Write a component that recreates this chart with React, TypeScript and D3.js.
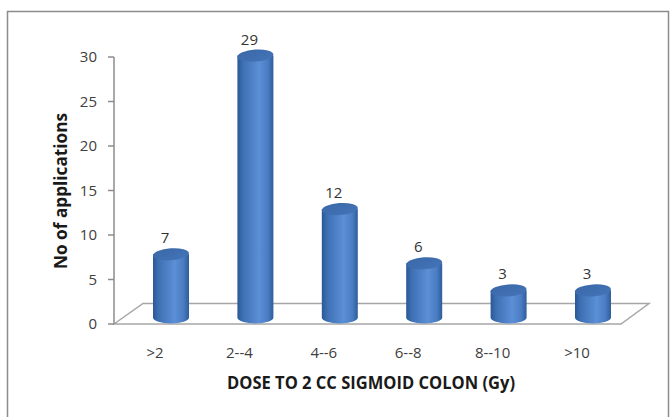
import React from "react";
import * as d3 from "d3";

const categories = [">2", "2--4", "4--6", "6--8", "8--10", ">10"];
const values = [7, 29, 12, 6, 3, 3];
const yTicks = [0, 5, 10, 15, 20, 25, 30];
const xTitle = "DOSE TO 2 CC SIGMOID COLON (Gy)";
const yTitle = "No of applications";

const W = 671;
const H = 417;

export default function App() {
  const y = d3.scaleLinear().domain([0, 30]).range([324, 57]);
  const yBar = d3.scaleLinear().domain([0, 30]).range([317.5, 46.5]);
  const x = d3.scaleBand<string>().domain(categories).range([128.8, 635.2]).padding(0);
  const rx = 18;
  const ry = 6;
  const font = "'Open Sans', 'Liberation Sans', sans-serif";
  const axisX = 114;
  const floorFront = y(0);
  const floorBack = 303.5;

  const floorPath = d3.path();
  floorPath.moveTo(axisX, floorFront);
  floorPath.lineTo(143, floorBack);
  floorPath.lineTo(649, floorBack);
  floorPath.lineTo(621, floorFront);
  floorPath.closePath();

  return (
    <svg width={W} height={H} style={{ position: "absolute", left: 0, top: 0, background: "#fff" }}>
      <defs>
        <linearGradient id="body" x1="0" x2="1" y1="0" y2="0">
          <stop offset="0" stopColor="#2b5894" />
          <stop offset="0.15" stopColor="#3d6fb3" />
          <stop offset="0.6" stopColor="#5b8fd6" />
          <stop offset="0.85" stopColor="#4a7cc2" />
          <stop offset="1" stopColor="#2f5d9b" />
        </linearGradient>
        <linearGradient id="top" x1="0" x2="1" y1="0" y2="1">
          <stop offset="0" stopColor="#3a68a8" />
          <stop offset="1" stopColor="#4474b8" />
        </linearGradient>
      </defs>
      <rect x={7.5} y={11.5} width={661} height={430} fill="#fff" stroke="#8c8c8c" strokeWidth={1.5} />

      {/* floor */}
      <path d={floorPath.toString()} fill="none" stroke="#a6a6a6" strokeWidth={1.5} />

      {/* y axis */}
      <line x1={axisX} x2={axisX} y1={y(30)} y2={y(0)} stroke="#8c8c8c" strokeWidth={1.5} />
      {yTicks.map((t) => (
        <g key={t}>
          <line x1={axisX - 6} x2={axisX} y1={y(t)} y2={y(t)} stroke="#8c8c8c" strokeWidth={1.5} />
          <text x={97} y={y(t)} dy="0.35em" textAnchor="end" fontFamily={font} fontSize={15} fill="#404040">
            {t}
          </text>
        </g>
      ))}

      {/* bars */}
      {categories.map((c, i) => {
        const cx = (x(c) as number) + x.bandwidth() / 2;
        const yb = yBar(0);
        const yt = yBar(values[i]);
        const body = `M${cx - rx},${yt} L${cx - rx},${yb} A${rx},${ry} 0 0 0 ${cx + rx},${yb} L${cx + rx},${yt} Z`;
        return (
          <g key={c}>
            <path d={body} fill="url(#body)" />
            <ellipse cx={cx} cy={yt} rx={rx} ry={ry} fill="url(#top)" transform={`rotate(-4 ${cx} ${yt})`} />
            <text x={cx - 6} y={yt - 11} textAnchor="middle" fontFamily={font} fontSize={15} fill="#333">
              {values[i]}
            </text>
            <text x={cx - 16} y={353} dy="0.35em" textAnchor="middle" fontFamily={font} fontSize={15} fill="#404040">
              {c}
            </text>
          </g>
        );
      })}

      {/* titles */}
      <text x={371} y={389} textAnchor="middle" fontFamily={font} fontWeight="bold" fontSize={17} fill="#1a1a1a" textLength={288} lengthAdjust="spacingAndGlyphs">
        {xTitle}
      </text>
      <text
        transform={`translate(67,191) rotate(-90)`}
        textAnchor="middle"
        fontFamily={font}
        fontWeight="bold"
        fontSize={18}
        fill="#1a1a1a"
        textLength={156}
        lengthAdjust="spacingAndGlyphs"
      >
        {yTitle}
      </text>
    </svg>
  );
}
